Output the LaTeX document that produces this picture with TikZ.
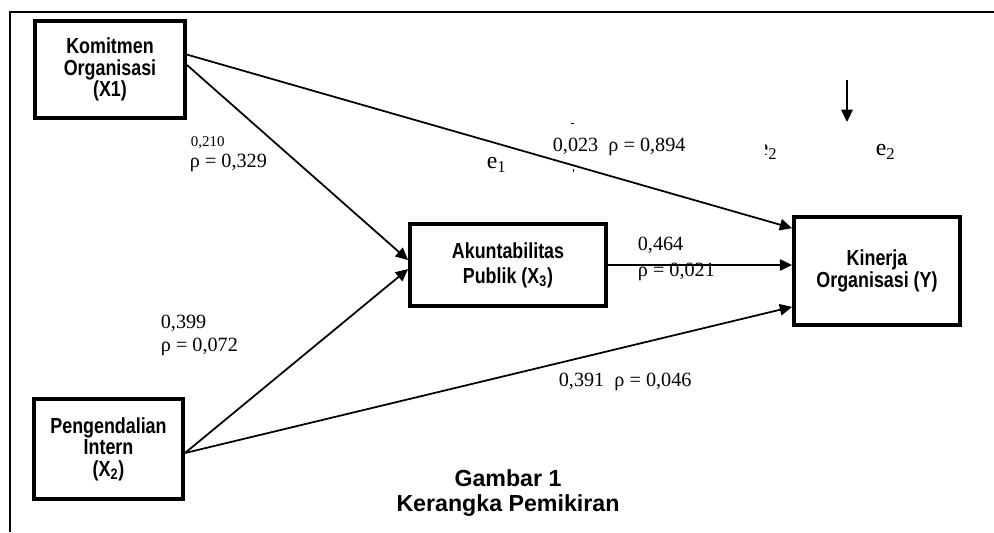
\documentclass[tikz,border=0pt]{standalone}
\usepackage{fontspec}
\setmainfont{Liberation Serif}
\setsansfont{Liberation Sans}
\newfontfamily\boxfont[FakeStretch=0.82]{Liberation Sans Bold}
\usetikzlibrary{arrows.meta}
\begin{document}
\begin{tikzpicture}[x=0.02cm,y=-0.02cm,>={Triangle[length=7pt,width=6.5pt]},line width=1pt,
	varbox/.style={draw,line width=2.2pt,align=center,inner sep=2pt,font=\boxfont\fontsize{12.4}{12.3}\selectfont},
	lbl/.style={anchor=west,inner sep=0pt,font=\fontsize{11.5}{13}\selectfont},
	errlbl/.style={anchor=west,inner sep=0pt,font=\fontsize{13.5}{15}\selectfont}]
	\useasboundingbox (0,0) rectangle (994,532);
	\draw[line width=1.4pt] (10,532) -- (10,12) -- (994,12);
	\node[varbox,minimum width=3.0cm,minimum height=1.94cm] (komit) at (110,69.5) {Komitmen\\Organisasi\\(X1)};
	\node[varbox,minimum width=2.98cm,minimum height=2.0cm] (kendali) at (108.5,449) {Pengendalian\\Intern\\(X\textsubscript{2})};
	\node[varbox,minimum width=3.92cm,minimum height=1.64cm,font=\boxfont\fontsize{12.4}{14.2}\selectfont] (akun) at (508,265) {Akuntabilitas\\Publik (X\textsubscript{3})};
	\node[varbox,minimum width=3.32cm,minimum height=2.16cm] (kinerja) at (877,271) {Kinerja\\Organisasi (Y)};
	\draw[->] ([yshift=8.5pt]komit.east) -- ([yshift=24.4pt]kinerja.west);
	\draw[->] ([yshift=2.6pt]komit.east) -- ([yshift=2.8pt]akun.west);
	\draw[->] ([yshift=-2.3pt]kendali.east) -- ([yshift=-2.3pt]akun.west);
	\draw[->] ([yshift=-2.3pt]kendali.east) -- ([yshift=-20.4pt]kinerja.west);
	\draw[->] (akun.east) -- (akun.east -| kinerja.west);
	\coordinate (e2top) at (847,80);
	\coordinate (e2tip) at (847,122);
	\draw[->] (e2top) -- (e2tip);
	\node[lbl,font=\fontsize{8.5}{9}\selectfont] (b1) at (190,143) {0,210};
	\node[lbl] (p1) at (189,163) {ρ = 0,329};
	\node[lbl] (b2) at (160,323) {0,399};
	\node[lbl] (p2) at (160,347) {ρ = 0,072};
	\node[lbl] (b3) at (552,147) {0,023\ \ ρ = 0,894};
	\node[lbl] (b4) at (637,245) {0,464};
	\node[lbl] (p4) at (637,272) {ρ = 0,021};
	\node[lbl] (b5) at (558,382) {0,391\ \ ρ = 0,046};
	\node[errlbl] (e1) at (486,165) {e\textsubscript{1}};
	\node[errlbl] (e2) at (875,152) {e\textsubscript{2}};
	\begin{scope}
		\clip (765,138) rectangle (780,164);
		\node[errlbl] (e2cut) at (757,152) {e\textsubscript{2}};
	\end{scope}
	\fill (571,122.5) rectangle (574,124);
	\fill (572.5,169) rectangle (573.7,172);
	\node[font=\sffamily\bfseries\fontsize{13.2}{14.2}\selectfont,align=center] (cap) at (508,493) {Gambar 1\\Kerangka Pemikiran};
\end{tikzpicture}
\end{document}
